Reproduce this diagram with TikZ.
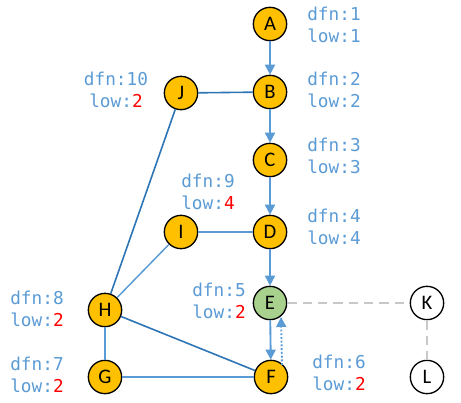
\documentclass[tikz,border=0pt]{standalone}
\usepackage{fontspec}
\setmainfont{Carlito}
\newfontfamily\lblmono{DejaVu Sans Mono}
\usetikzlibrary{arrows.meta,calc}
\definecolor{lblblue}{HTML}{5B9BD5}
\definecolor{lineblue}{HTML}{5B9BD5}
\definecolor{darkblue}{HTML}{2E75B6}
\definecolor{nodeyel}{HTML}{FFC000}
\definecolor{nodegrn}{HTML}{A9D18E}
\definecolor{dashgray}{HTML}{C8C8C8}
\definecolor{lowred}{HTML}{FF0000}
\tikzset{
  vtx/.style={circle,draw=black,line width=1pt,fill=nodeyel,minimum size=25pt,inner sep=0pt,font=\fontsize{15.5}{17}\selectfont},
  vtxg/.style={vtx,fill=nodegrn},
  vtxw/.style={vtx,fill=white},
  lbl/.style={align=center,inner sep=0pt,text=lblblue,font=\lblmono\fontsize{13.3}{17}\selectfont},
  treearrow/.style={draw=lineblue,line width=1.4pt,-{Triangle[length=7.5pt,width=7.5pt]}},
  lightedge/.style={draw=lineblue,line width=1.1pt},
  darkedge/.style={draw=darkblue,line width=1.2pt},
  grayedge/.style={draw=dashgray,line width=1.4pt,dash pattern=on 7pt off 4.5pt},
  backarrow/.style={draw=lineblue,line width=1.4pt,dash pattern=on 1.4pt off 1.4pt,-{Triangle[length=7.5pt,width=7.5pt]}}
}
\newcommand{\lowr}[1]{\textcolor{lowred}{#1}}
\begin{document}
\begin{tikzpicture}[x=0.75pt,y=-0.75pt]
\useasboundingbox (0,0) rectangle (461,403);
% vertices
\node[vtx] (A) at (270,24) {A};
\node[vtx] (B) at (270,92) {B};
\node[vtx] (C) at (270,160) {C};
\node[vtx] (D) at (270,232) {D};
\node[vtxg] (E) at (270,303) {E};
\node[vtx] (F) at (271,377) {F};
\node[vtx] (G) at (105,377) {G};
\node[vtx] (H) at (105,310) {H};
\node[vtx] (I) at (181,232) {I};
\node[vtx] (J) at (181,93) {J};
\node[vtxw] (K) at (427,303) {K};
\node[vtxw] (L) at (427,377) {L};
% labels
\node[lbl] (lA) at (334,25) {dfn:1\\low:1};
\node[lbl] (lB) at (334,90) {dfn:2\\low:2};
\node[lbl] (lC) at (334,156) {dfn:3\\low:3};
\node[lbl] (lD) at (334,227) {dfn:4\\low:4};
\node[lbl] (lE) at (219,301) {dfn:5\\low:\lowr{2}};
\node[lbl] (lF) at (339,373) {dfn:6\\low:\lowr{2}};
\node[lbl] (lG) at (37,375) {dfn:7\\low:\lowr{2}};
\node[lbl] (lH) at (37,309) {dfn:8\\low:\lowr{2}};
\node[lbl] (lI) at (208,192) {dfn:9\\low:\lowr{4}};
\node[lbl] (lJ) at (116,90) {dfn:10\\low:\lowr{2}};
% tree arrows
\draw[treearrow] (A) -- (B);
\draw[treearrow] (B) -- (C);
\draw[treearrow] (C) -- (D);
\draw[treearrow] (D) -- (E);
\draw[treearrow] (E) -- (F);
% other edges
\draw[darkedge] (J) -- (B);
\draw[darkedge] (J) -- (H);
\draw[darkedge] (H) -- (F);
\draw[lightedge] (I) -- (D);
\draw[lightedge] (I) -- (H);
\draw[lightedge] (H) -- (G);
\draw[lightedge] (G) -- (F);
\draw[grayedge] (E) -- (K);
\draw[grayedge] (K) -- (L);
% back edge
\coordinate (fb) at ($(F)+(11,-12)$);
\coordinate (eb) at ($(E)+(11,14)$);
\draw[backarrow] (fb) -- (eb);
\end{tikzpicture}
\end{document}
